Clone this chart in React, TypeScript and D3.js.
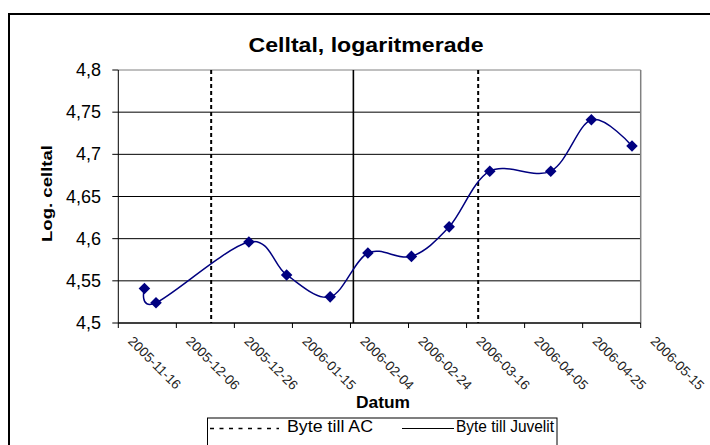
import React from "react";
import * as d3 from "d3";

// measurement dates and log cell counts
const sampleDates = [
  "2005-11-25", "2005-11-29", "2005-12-31", "2006-01-13", "2006-01-28", "2006-02-10",
  "2006-02-25", "2006-03-10", "2006-03-24", "2006-04-14", "2006-04-28", "2006-05-12",
];
const logCellCounts = [4.541, 4.524, 4.596, 4.557, 4.531, 4.583, 4.579, 4.614, 4.68, 4.68, 4.741, 4.71];

// x axis tick dates (every 20 days)
const tickDates = [
  "2005-11-16", "2005-12-06", "2005-12-26", "2006-01-15", "2006-02-04",
  "2006-02-24", "2006-03-16", "2006-04-05", "2006-04-25", "2006-05-15",
];
const yTicks = [4.5, 4.55, 4.6, 4.65, 4.7, 4.75, 4.8];

// change events
const acChanges = ["2005-12-18", "2006-03-20"];
const juvelitChanges = ["2006-02-05"];

const parse = d3.utcParse("%Y-%m-%d");
const fmtNum = d3.formatLocale({ decimal: ",", thousands: " ", grouping: [3], currency: ["", ""] }).format("~g");

const font = "'Liberation Sans', Arial, sans-serif";

export default function App() {
  const width = 710;
  const height = 445;
  const plot = { left: 118.3, right: 640.7, top: 70, bottom: 323 };

  const x = d3.scaleUtc()
    .domain([parse(tickDates[0])!, parse(tickDates[tickDates.length - 1])!])
    .range([plot.left, plot.right]);
  const y = d3.scaleLinear().domain([4.5, 4.8]).range([plot.bottom, plot.top]);

  const points = sampleDates.map((d, i) => ({ date: parse(d)!, value: logCellCounts[i] }));

  const line = d3.line<{ date: Date; value: number }>()
    .x((d) => x(d.date))
    .y((d) => y(d.value))
    .curve(d3.curveCardinal.tension(0));

  const diamond = d3.symbol(d3.symbolDiamond2, 85)();

  return (
    <svg width={width} height={height} style={{ position: "absolute", left: 0, top: 0, background: "#fff" }}>
      {/* chart frame */}
      <rect x={9} y={14} width={760} height={500} fill="none" stroke="#000" strokeWidth={2} />

      <text x={366} y={51.5} textAnchor="middle" fontFamily={font} fontWeight="bold" fontSize={19.5}
        textLength={235} lengthAdjust="spacingAndGlyphs">Celltal, logaritmerade</text>

      {/* gridlines */}
      {yTicks.map((t) => (
        <line key={t} x1={plot.left} x2={plot.right} y1={y(t)} y2={y(t)}
          stroke={t === 4.8 ? "#808080" : "#000"} strokeWidth={1} />
      ))}
      <line x1={plot.right} x2={plot.right} y1={plot.top} y2={plot.bottom} stroke="#808080" strokeWidth={1.5} />

      {/* y axis */}
      <line x1={plot.left} x2={plot.left} y1={plot.top} y2={plot.bottom} stroke="#000" />
      {yTicks.map((t) => (
        <g key={t}>
          <line x1={plot.left - 6} x2={plot.left} y1={y(t)} y2={y(t)} stroke="#000" />
          <text x={101} y={y(t) + 6} textAnchor="end" fontFamily={font} fontSize={18}>{fmtNum(t)}</text>
        </g>
      ))}
      <text transform={`translate(52,193.5) rotate(-90)`} textAnchor="middle" fontFamily={font}
        fontWeight="bold" fontSize={15.5} textLength={97} lengthAdjust="spacingAndGlyphs">Log. celltal</text>

      {/* x axis */}
      <line x1={plot.left} x2={plot.right} y1={plot.bottom} y2={plot.bottom} stroke="#000" />
      {tickDates.map((t) => {
        const tx = x(parse(t)!);
        return (
          <g key={t}>
            <line x1={tx} x2={tx} y1={plot.bottom} y2={plot.bottom + 5} stroke="#000" />
            <text transform={`translate(${tx + 9},342) rotate(45)`} fontFamily={font} fontSize={13.5}
              fill="#222">{t}</text>
          </g>
        );
      })}
      <text x={383} y={408} textAnchor="middle" fontFamily={font} fontWeight="bold" fontSize={16}
        textLength={54} lengthAdjust="spacingAndGlyphs">Datum</text>

      {/* change markers */}
      {acChanges.map((d) => (
        <line key={d} x1={x(parse(d)!)} x2={x(parse(d)!)} y1={plot.top} y2={plot.bottom}
          stroke="#000" strokeWidth={2} strokeDasharray="4,3" />
      ))}
      {juvelitChanges.map((d) => (
        <line key={d} x1={x(parse(d)!)} x2={x(parse(d)!)} y1={plot.top} y2={plot.bottom}
          stroke="#000" strokeWidth={1.6} />
      ))}

      {/* series */}
      <path d={line(points) ?? ""} fill="none" stroke="#000080" strokeWidth={1.5} />
      {points.map((p, i) => (
        <path key={i} d={diamond ?? ""} transform={`translate(${x(p.date)},${y(p.value)})`} fill="#000080" />
      ))}

      {/* legend */}
      <rect x={207.5} y={418} width={349.5} height={60} fill="#fff" stroke="#000" strokeWidth={1} />
      <line x1={210} x2={279} y1={428.5} y2={428.5} stroke="#000" strokeWidth={1.5} strokeDasharray="4,5.5" />
      <text x={287} y={432} fontFamily={font} fontSize={16.5} textLength={86} lengthAdjust="spacingAndGlyphs">Byte till AC</text>
      <line x1={402} x2={454} y1={428.5} y2={428.5} stroke="#000" strokeWidth={1} />
      <text x={456} y={432} fontFamily={font} fontSize={16.5} textLength={98} lengthAdjust="spacingAndGlyphs">Byte till Juvelit</text>
    </svg>
  );
}
